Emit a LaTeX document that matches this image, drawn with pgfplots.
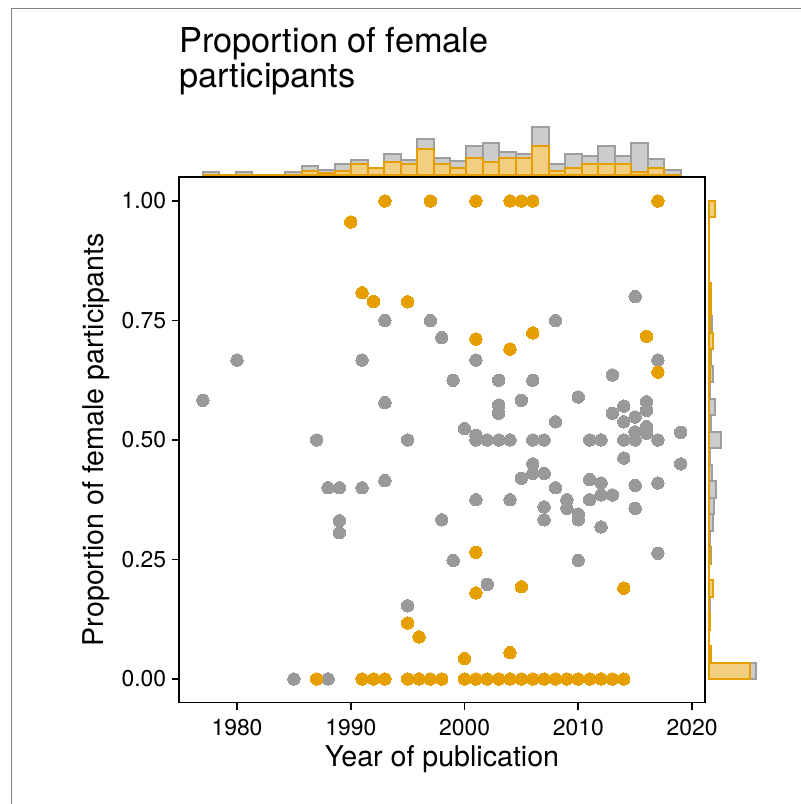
\documentclass[border=0pt]{standalone}
\usepackage{fontspec}
\setmainfont{TeX Gyre Heros}
\usepackage{pgfplots}
\usepackage{pgfplotstable}
\pgfplotsset{compat=1.18}
\definecolor{ptgray}{HTML}{999999}
\definecolor{ptorange}{HTML}{E69F00}
\definecolor{hgfill}{HTML}{CCCCCC}
\definecolor{hgline}{HTML}{9E9E9E}
\definecolor{hofill}{HTML}{F2CF80}
\definecolor{framegray}{HTML}{808080}

\pgfplotstableread{
year prop
1977 0.583
1980 0.667
1985 0
1987 0.5
1988 0.4
1988 0
1989 0.4
1989 0.331
1989 0.306
1991 0.667
1991 0.4
1993 0.75
1993 0.578
1993 0.415
1995 0.5
1995 0.153
1997 0.75
1998 0.714
1998 0.333
1999 0.625
1999 0.248
2000 0.524
2001 0.667
2001 0.51
2001 0.5
2001 0.375
2002 0.5
2002 0.198
2003 0.625
2003 0.573
2003 0.556
2003 0.5
2004 0.5
2004 0.375
2005 0.583
2005 0.42
2006 0.625
2006 0.5
2006 0.45
2006 0.43
2007 0.5
2007 0.43
2007 0.36
2007 0.333
2008 0.75
2008 0.538
2008 0.4
2009 0.375
2009 0.357
2010 0.59
2010 0.345
2010 0.333
2010 0.248
2011 0.5
2011 0.417
2011 0.375
2012 0.5
2012 0.41
2012 0.385
2012 0.318
2013 0.636
2013 0.556
2013 0.385
2014 0.571
2014 0.538
2014 0.5
2014 0.462
2015 0.8
2015 0.548
2015 0.517
2015 0.5
2015 0.405
2015 0.357
2016 0.58
2016 0.562
2016 0.528
2016 0.514
2017 0.667
2017 0.5
2017 0.41
2017 0.263
2019 0.516
2019 0.45
}\graypts

\pgfplotstableread{
year prop
1987 0
1990 0.956
1991 0.808
1991 0
1992 0.79
1992 0
1993 1.0
1993 0
1995 0.789
1995 0.117
1995 0
1996 0.088
1996 0
1997 1.0
1997 0
1998 0
2000 0.043
2000 0
2001 1.0
2001 0.711
2001 0.265
2001 0.18
2001 0
2002 0
2003 0
2004 1.0
2004 0.69
2004 0.055
2004 0
2005 1.0
2005 0.193
2005 0
2006 1.0
2006 0.724
2006 0
2007 0
2008 0
2009 0
2010 0
2011 0
2012 0
2013 0
2014 0.19
2014 0
2016 0.717
2017 1.0
2017 0.642
}\orangepts

% top marginal histogram: left bin edge, bar heights (all, orange)
\pgfplotstableread{
edge g o
1977.000 3.2 0
1978.448 0 0
1979.897 3.2 0
1981.345 0 0
1982.793 0 0
1984.241 3.2 0
1985.690 9.2 4.8
1987.138 5.8 2.8
1988.586 11.8 4.8
1990.034 15.8 11.8
1991.483 7.8 7.8
1992.931 21.2 13.8
1994.379 15.8 11.2
1995.828 36.2 26.5
1997.276 17.8 11.2
1998.724 14.5 7.2
2000.172 29.2 17.2
2001.621 32.8 13.8
2003.069 23.8 17.2
2004.517 21.8 17.2
2005.966 48.8 29.8
2007.414 11.2 4.5
2008.862 21.8 7.2
2010.310 19.8 11.2
2011.759 29.8 11.2
2013.207 19.8 11.2
2014.655 32.8 3.8
2016.103 16.5 7.2
2017.552 5.2 0
2019.000 5.2 0
}\tophist

% right marginal histogram: lower bin edge, bar lengths (all, orange)
\pgfplotstableread{
edge g o
0.00000 47.5 41
0.03448 2 2
0.06897 0 0
0.10345 1.5 1.5
0.13793 1.5 0
0.17241 4 4
0.20690 0 0
0.24138 2.5 1.5
0.27586 1 0
0.31034 4 0
0.34483 5 0
0.37931 7 0
0.41379 3 0
0.44828 1.5 0
0.48276 12.5 0
0.51724 2.5 0
0.55172 6 0
0.58621 1.5 0
0.62069 4 1
0.65517 2.5 1
0.68966 4 4
0.72414 3.2 1.5
0.75862 2 2
0.79310 2 2
0.82759 0 0
0.86207 0 0
0.89655 0 0
0.93103 0 0
0.96552 6.5 6.5
1.00000 6.5 6.5
}\righthist

\begin{document}
\begin{tikzpicture}[x=1pt,y=1pt]
\useasboundingbox (0,0) rectangle (801,804);
\draw[framegray, line width=1pt] (11.5,-2) -- (11.5,795.5) -- (803,795.5);

% main scatter
\begin{axis}[
  at={(179pt,101.5pt)}, anchor=south west,
  scale only axis, width=526pt, height=525.5pt,
  xmin=1974.90, xmax=2021.14,
  ymin=-0.0492, ymax=1.0502,
  xtick={1980,1990,2000,2010,2020},
  xticklabels={1980,1990,2000,2010,2020},
  ytick={0,0.25,0.5,0.75,1},
  yticklabels={0.00,0.25,0.50,0.75,1.00},
  xtick pos=bottom, ytick pos=left,
  tick align=outside, major tick length=7pt,
  tick style={black, line width=1.8pt},
  axis line style={black, line width=1.9pt},
  ticklabel style={font=\fontsize{22.9}{27}\selectfont},
  xticklabel style={anchor=base, inner sep=0pt, yshift=-25.5pt},
  yticklabel style={anchor=east, inner sep=0pt, xshift=-5.7pt},
  xlabel={Year of publication},
  ylabel={Proportion of female participants},
  xlabel style={font=\fontsize{28.6}{34}\selectfont, at={(axis description cs:0.5,-0.1227)}, anchor=base, inner sep=0pt},
  ylabel style={font=\fontsize{28.6}{34}\selectfont, at={(axis description cs:-0.1426,0.5)}, anchor=base, inner sep=0pt},
  clip=false,
]
\addplot[only marks, mark=*, color=ptgray, mark size=6.2pt, mark options={fill=ptgray, line width=0pt}] table[x=year, y=prop] {\graypts};
\addplot[only marks, mark=*, color=ptorange, mark size=6.2pt, mark options={fill=ptorange, line width=0pt}] table[x=year, y=prop] {\orangepts};
\end{axis}

% top marginal histogram
\begin{axis}[
  at={(179pt,628.5pt)}, anchor=south west,
  scale only axis, width=526pt, height=60pt,
  xmin=1974.90, xmax=2021.14, ymin=0, ymax=60,
  hide axis, clip=false,
]
\addplot[ybar interval, fill=hgfill, draw=hgline, line width=2pt] table[x=edge, y=g] {\tophist};
\addplot[ybar interval, fill=hofill, draw=ptorange, line width=2pt] table[x=edge, y=o] {\tophist};
\end{axis}

% right marginal histogram
\begin{axis}[
  at={(708.5pt,101.5pt)}, anchor=south west,
  scale only axis, width=60pt, height=525.5pt,
  xmin=0, xmax=60, ymin=-0.0492, ymax=1.0502,
  hide axis, clip=false,
]
\addplot[xbar interval, fill=hgfill, draw=hgline, line width=2pt] table[x=g, y=edge] {\righthist};
\addplot[xbar interval, fill=hofill, draw=ptorange, line width=2pt] table[x=o, y=edge] {\righthist};
\end{axis}

\node[anchor=base west, inner sep=0pt, font=\fontsize{34.3}{41}\selectfont] at (179,751) {Proportion of female};
\node[anchor=base west, inner sep=0pt, font=\fontsize{34.3}{41}\selectfont] at (179,716) {participants};
\end{tikzpicture}
\end{document}
